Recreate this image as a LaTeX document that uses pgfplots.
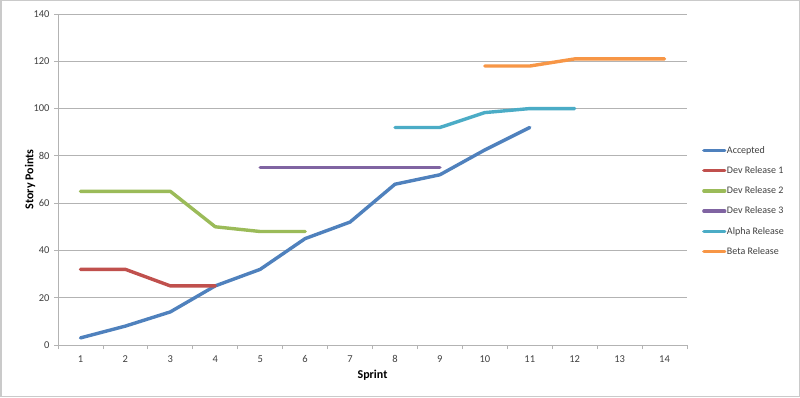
\documentclass[border=0pt]{standalone}
\usepackage{pgfplots}
\pgfplotsset{compat=1.18}
\usepackage{fontspec}
\setmainfont{Carlito}
\definecolor{cA}{HTML}{4F81BD}
\definecolor{cB}{HTML}{C0504D}
\definecolor{cC}{HTML}{9BBB59}
\definecolor{cD}{HTML}{8064A2}
\definecolor{cE}{HTML}{4BACC6}
\definecolor{cF}{HTML}{F79646}
\definecolor{gridc}{HTML}{B3B3B3}
\definecolor{txt}{HTML}{404040}
\begin{document}
\begin{tikzpicture}[x=1pt,y=1pt]
\draw[draw=gridc!70, line width=1.5pt, fill=white] (0.75,0.75) rectangle (799.25,396.25);
\begin{axis}[
  at={(58pt,52pt)}, anchor=south west,
  scale only axis, width=629pt, height=331pt,
  xmin=0.5, xmax=14.5, ymin=0, ymax=140,
  axis x line*=bottom, axis y line*=left,
  axis line style={draw=gridc, line width=0.8pt},
  xtick={1,...,14}, major x tick style={draw=none},
  minor xtick={0.5,1.5,...,14.5},
  minor x tick style={draw=gridc, line width=0.8pt},
  minor tick length=4pt,
  ytick={0,20,...,140},
  major y tick style={draw=gridc, line width=0.8pt},
  major tick length=4pt,
  tick align=outside,
  ymajorgrids, grid style={draw=gridc, line width=0.8pt},
  tick label style={font=\fontsize{10.5}{12}\selectfont, text=txt},
  /pgf/number format/assume math mode=true,
  yticklabel style={xshift=-1pt},
  xticklabel style={yshift=-3pt},
  xlabel={Sprint}, ylabel={Story Points},
  label style={font=\bfseries\fontsize{12}{14}\selectfont, text=black},
  xlabel style={at={(axis description cs:0.5,-0.09)}, anchor=center},
  ylabel style={at={(axis description cs:-0.0445,0.5)}, anchor=center},
  legend style={at={(axis description cs:1.0238,0.435)}, anchor=west, draw=none,
    font=\fontsize{10}{11}\selectfont, text=txt, row sep=10.8pt, column sep=0pt,
    inner sep=0pt,
    nodes={inner sep=0.5pt}, cells={anchor=west}, fill=none},
  legend image code/.code={\draw[#1, line width=3.3pt] (0pt,0pt) -- (21pt,0pt);},
  every axis plot/.append style={line width=3.4pt, line join=round, line cap=round, mark=none},
  clip=false,
]
\addplot[cA] coordinates {(1,3) (2,8) (3,14) (4,25) (5,32) (6,45) (7,52) (8,68) (9,72) (10,82.5) (11,92)};
\addlegendentry{Accepted}
\addplot[cB] coordinates {(1,32) (2,32) (3,25) (4,25)};
\addlegendentry{Dev Release 1}
\addplot[cC] coordinates {(1,65) (2,65) (3,65) (4,50) (5,48) (6,48)};
\addlegendentry{Dev Release 2}
\addplot[cD] coordinates {(5,75) (6,75) (7,75) (8,75) (9,75)};
\addlegendentry{Dev Release 3}
\addplot[cE] coordinates {(8,92) (9,92) (10,98.3) (11,100) (12,100)};
\addlegendentry{Alpha Release}
\addplot[cF] coordinates {(10,118) (11,118) (12,121) (13,121) (14,121)};
\addlegendentry{Beta Release}
\end{axis}
\end{tikzpicture}
\end{document}
